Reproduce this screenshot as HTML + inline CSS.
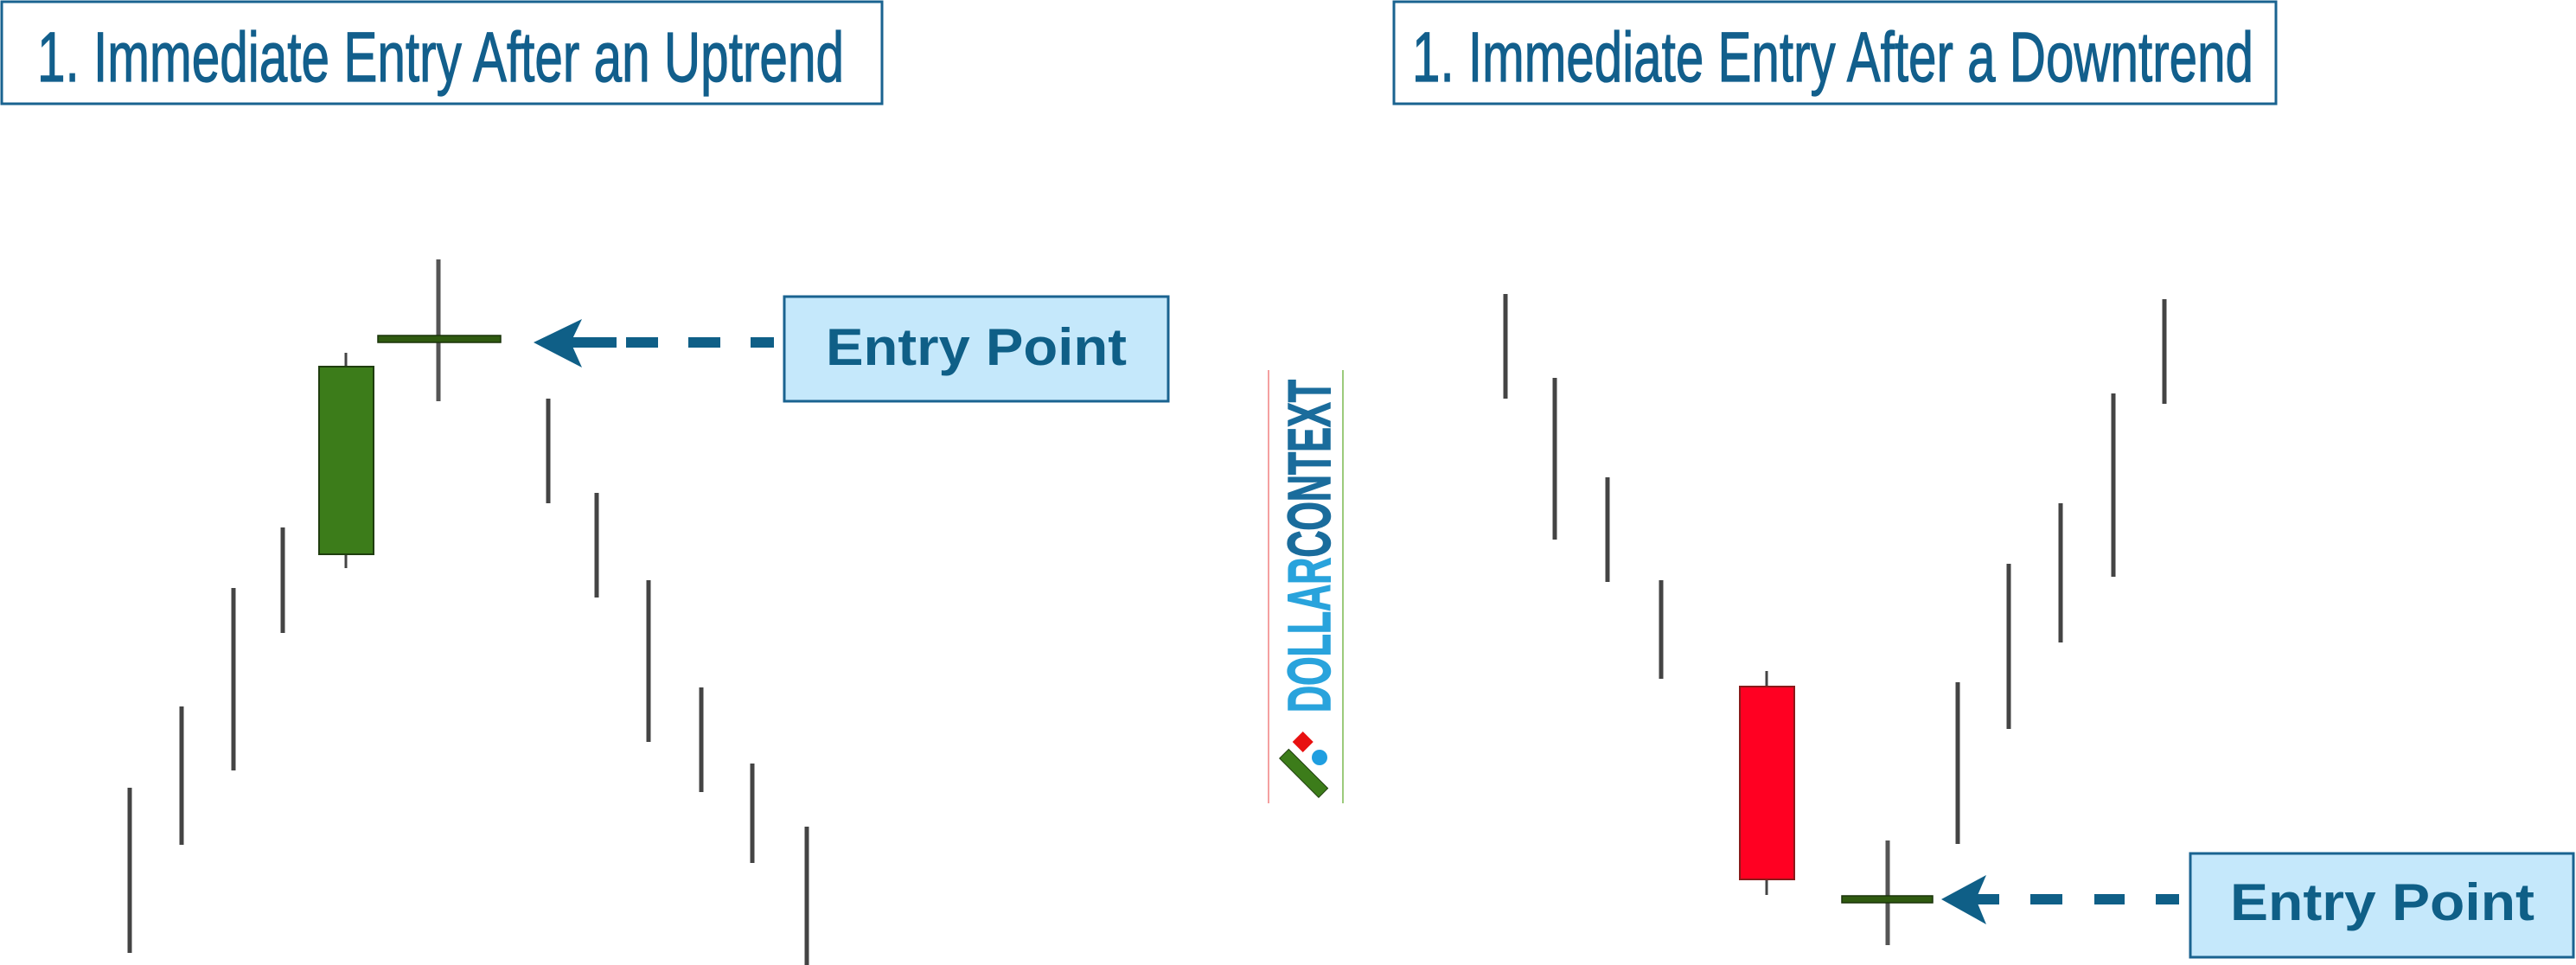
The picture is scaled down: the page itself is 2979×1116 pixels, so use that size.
<!DOCTYPE html>
<html><head><meta charset="utf-8"><style>html,body{margin:0;padding:0;background:#fff}svg{display:block}</style></head>
<body>
<svg width="2979" height="1116" viewBox="0 0 2979 1116" xmlns="http://www.w3.org/2000/svg">
<!-- titles -->
<rect x="2" y="2" width="1018" height="118" fill="#fff" stroke="#1a6390" stroke-width="3"/>
<text x="43" y="94" font-family="'Liberation Sans Narrow','Liberation Sans',sans-serif" font-size="82" fill="#125f8c" stroke="#125f8c" stroke-width="1.2" textLength="933" lengthAdjust="spacingAndGlyphs">1. Immediate Entry After an Uptrend</text>
<rect x="1612" y="2" width="1020" height="118" fill="#fff" stroke="#1a6390" stroke-width="3"/>
<text x="1633" y="94" font-family="'Liberation Sans Narrow','Liberation Sans',sans-serif" font-size="82" fill="#125f8c" stroke="#125f8c" stroke-width="1.2" textLength="973" lengthAdjust="spacingAndGlyphs">1. Immediate Entry After a Downtrend</text>

<g stroke="#444" stroke-width="5">
<line x1="150" y1="911" x2="150" y2="1102"/>
<line x1="210" y1="817" x2="210" y2="977"/>
<line x1="270" y1="680" x2="270" y2="891"/>
<line x1="327" y1="610" x2="327" y2="732"/>
<line x1="634" y1="461" x2="634" y2="582"/>
<line x1="690" y1="570" x2="690" y2="691"/>
<line x1="750" y1="671" x2="750" y2="858"/>
<line x1="811" y1="795" x2="811" y2="916"/>
<line x1="870" y1="883" x2="870" y2="998"/>
<line x1="933" y1="956" x2="933" y2="1116"/>

<line x1="1741" y1="340" x2="1741" y2="461"/>
<line x1="1798" y1="437" x2="1798" y2="624"/>
<line x1="1859" y1="552" x2="1859" y2="673"/>
<line x1="1921" y1="671" x2="1921" y2="785"/>
<line x1="2264" y1="789" x2="2264" y2="976"/>
<line x1="2323" y1="652" x2="2323" y2="843"/>
<line x1="2383" y1="582" x2="2383" y2="743"/>
<line x1="2444" y1="455" x2="2444" y2="667"/>
<line x1="2503" y1="346" x2="2503" y2="467"/>
</g>
<!-- green candle -->
<line x1="400" y1="408" x2="400" y2="657" stroke="#444" stroke-width="3"/>
<rect x="369" y="424" width="63" height="217" fill="#3c7c1a" stroke="#1f3d0e" stroke-width="2"/>
<!-- cross left -->
<line x1="507" y1="300" x2="507" y2="464" stroke="#555" stroke-width="5"/>
<rect x="437" y="388" width="142" height="8" fill="#2f5a10" stroke="#1a330a" stroke-width="1.5"/>
<!-- red candle -->
<line x1="2043" y1="776" x2="2043" y2="1035" stroke="#444" stroke-width="3"/>
<rect x="2012" y="794" width="63" height="223" fill="#ff0022" stroke="#8a1a1a" stroke-width="2"/>
<!-- cross right -->
<line x1="2183" y1="972" x2="2183" y2="1093" stroke="#555" stroke-width="5"/>
<rect x="2130" y="1036" width="105" height="8" fill="#2f5a10" stroke="#1a330a" stroke-width="1.5"/>

<!-- arrows -->
<g fill="#0f5f87">
<polygon points="617,396 673,369 660,396 673,425"/>
<rect x="660" y="390" width="53" height="12"/>
<rect x="724" y="390" width="37" height="12"/>
<rect x="796" y="390" width="37" height="12"/>
<rect x="868" y="390" width="27" height="12"/>
<polygon points="2245,1040 2297,1012 2285,1040 2297,1069"/>
<rect x="2285" y="1034" width="27" height="12"/>
<rect x="2348" y="1034" width="37" height="12"/>
<rect x="2422" y="1034" width="35" height="12"/>
<rect x="2493" y="1034" width="27" height="12"/>
</g>
<!-- entry boxes -->
<rect x="907" y="343" width="444" height="121" fill="#c5e8fb" stroke="#1a6390" stroke-width="3"/>
<text x="955" y="422" font-family="'Liberation Sans',sans-serif" font-weight="bold" font-size="60" fill="#0f5f87" textLength="348" lengthAdjust="spacingAndGlyphs">Entry Point</text>
<rect x="2533" y="987" width="443" height="120" fill="#c5e8fb" stroke="#1a6390" stroke-width="3"/>
<text x="2579" y="1064" font-family="'Liberation Sans',sans-serif" font-weight="bold" font-size="60" fill="#0f5f87" textLength="352" lengthAdjust="spacingAndGlyphs">Entry Point</text>

<!-- logo -->
<line x1="1467" y1="428" x2="1467" y2="929" stroke="#f4a0a0" stroke-width="2"/>
<line x1="1553" y1="428" x2="1553" y2="929" stroke="#9ccb7c" stroke-width="2"/>
<text transform="translate(1538,824) rotate(-90)" font-family="'Liberation Sans Narrow','Liberation Sans',sans-serif" font-weight="bold" font-size="70" textLength="385" lengthAdjust="spacingAndGlyphs"><tspan fill="#29a3dc" stroke="#29a3dc" stroke-width="1.5">DOLLAR</tspan><tspan fill="#1a6c9c" stroke="#1a6c9c" stroke-width="1.5">CONTEXT</tspan></text>
<rect x="1498" y="849" width="17" height="17" fill="#e81010" transform="rotate(45 1506 858)"/>
<circle cx="1526" cy="876" r="9" fill="#1f9ee0"/>
<rect x="1476" y="887" width="64" height="15" fill="#3c7c1a" stroke="#1f3d0e" stroke-width="1" transform="rotate(45 1508 894)"/>
</svg>
</body></html>
